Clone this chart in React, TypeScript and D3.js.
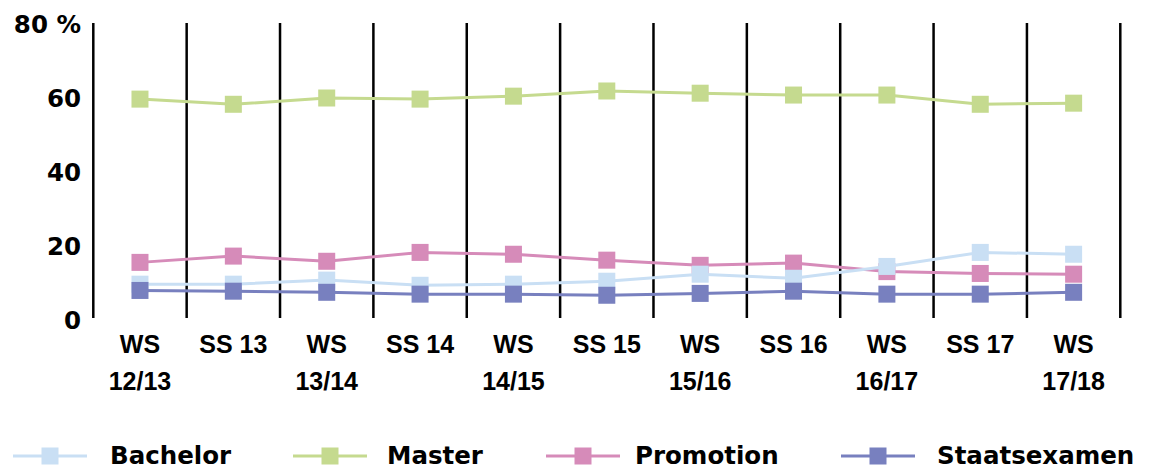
import React from "react";
import * as d3 from "d3";

const categories = ["WS 12/13", "SS 13", "WS 13/14", "SS 14", "WS 14/15", "SS 15", "WS 15/16", "SS 16", "WS 16/17", "SS 17", "WS 17/18"];
const labelLines = [["WS", "12/13"], ["SS 13"], ["WS", "13/14"], ["SS 14"], ["WS", "14/15"], ["SS 15"], ["WS", "15/16"], ["SS 16"], ["WS", "16/17"], ["SS 17"], ["WS", "17/18"]];
const bachelor = [9.7, 9.7, 10.8, 9.4, 9.7, 10.5, 12.4, 11.3, 14.5, 18.3, 17.8];
const master = [59.8, 58.4, 60.1, 59.8, 60.6, 62.0, 61.4, 60.9, 60.9, 58.4, 58.7];
const promotion = [15.6, 17.3, 15.9, 18.3, 17.8, 16.2, 14.8, 15.4, 13.1, 12.6, 12.4];
const staatsexamen = [8.0, 7.8, 7.5, 7.0, 7.0, 6.7, 7.2, 7.8, 7.0, 7.0, 7.5];
const yTicks = [0, 20, 40, 60, 80];

const seriesDefs = [
  { name: "Bachelor", values: bachelor, color: "#c9dff4" },
  { name: "Master", values: master, color: "#c5da8f" },
  { name: "Promotion", values: promotion, color: "#d68bb9" },
  { name: "Staatsexamen", values: staatsexamen, color: "#7880bf" },
];
const drawOrder = ["Master", "Promotion", "Bachelor", "Staatsexamen"];

const FONT = "'DejaVu Sans', 'Open Sans', sans-serif";
const XFONT = "'Liberation Sans', Arial, sans-serif";

export default function App() {
  const W = 1150, H = 470;
  const x = d3.scaleBand<string>().domain(categories).range([93.3, 1120.3]).padding(0);
  const y = d3.scaleLinear().domain([0, 80]).range([320, 24.5]);
  const line = d3.line<number>().x((_, i) => (x(categories[i]) as number) + x.bandwidth() / 2).y((d) => y(d));
  const boundaries = [...categories.map((c) => x(c) as number), (x(categories[categories.length - 1]) as number) + x.bandwidth()];
  const ms = 17;
  const legendPos = [
    { lx: 50, tx: 110 },
    { lx: 330, tx: 387 },
    { lx: 583, tx: 635 },
    { lx: 878, tx: 937 },
  ];
  return (
    <svg width={W} height={H} style={{ display: "block", position: "absolute", left: 0, top: 0 }} fontFamily={FONT}>
      <rect width={W} height={H} fill="#fff" />
      {boundaries.map((bx, i) => (
        <line key={i} x1={bx} x2={bx} y1={y(80) - 1.5} y2={y(0) - 2} stroke="#000" strokeWidth={2.5} />
      ))}
      {yTicks.map((t) => (
        <text key={t} x={81} y={y(t)} dy="0.35em" textAnchor="end" fontSize={24.5} fontWeight="bold" fill="#000">
          {t === 80 ? "80 %" : t}
        </text>
      ))}
      {labelLines.map((ls, i) => (
        <text key={i} textAnchor="middle" fontSize={25} fontWeight="bold" fill="#000" fontFamily={XFONT}>
          {ls.map((l, j) => (
            <tspan key={j} x={(x(categories[i]) as number) + x.bandwidth() / 2} y={353 + j * 37}>
              {l}
            </tspan>
          ))}
        </text>
      ))}
      {drawOrder.map((n) => {
        const s = seriesDefs.find((d) => d.name === n)!;
        return (
          <g key={n}>
            <path d={line(s.values) as string} fill="none" stroke={s.color} strokeWidth={3} />
            {s.values.map((v, i) => (
              <rect
                key={i}
                x={(x(categories[i]) as number) + x.bandwidth() / 2 - ms / 2}
                y={y(v) - ms / 2}
                width={ms}
                height={ms}
                fill={s.color}
              />
            ))}
          </g>
        );
      })}
      {seriesDefs.map((s, i) => {
        const p = legendPos[i];
        const ly = 456;
        return (
          <g key={s.name}>
            <line x1={p.lx - 37} x2={p.lx + 37} y1={ly} y2={ly} stroke={s.color} strokeWidth={3} />
            <rect x={p.lx - ms / 2} y={ly - ms / 2} width={ms} height={ms} fill={s.color} />
            <text x={p.tx} y={464} fontSize={24.5} fontWeight="bold" fill="#000">
              {s.name}
            </text>
          </g>
        );
      })}
    </svg>
  );
}
